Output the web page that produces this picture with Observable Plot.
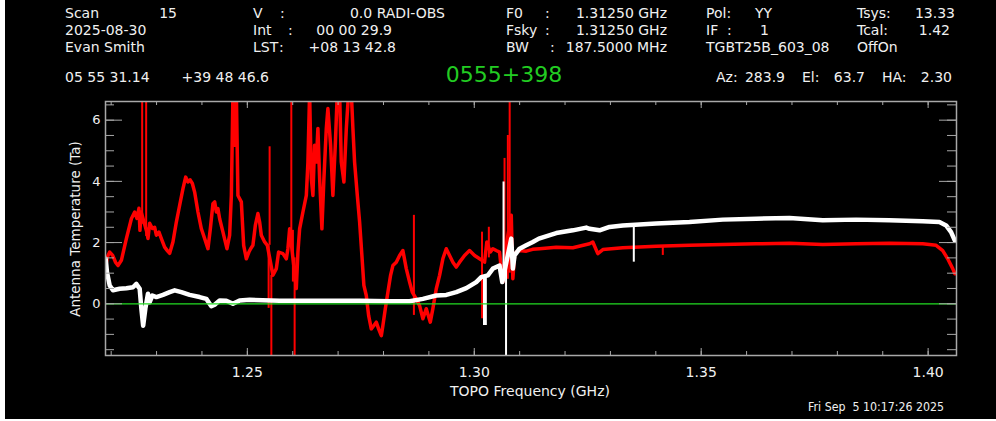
<!DOCTYPE html>
<html>
<head>
<meta charset="utf-8">
<script src="https://cdn.jsdelivr.net/npm/d3@7"></script>
<script src="https://cdn.jsdelivr.net/npm/@observablehq/plot@0.6"></script>
<style>
  html, body { margin: 0; padding: 0; background: #fff; overflow: hidden; }
  #bg { position: absolute; left: 5px; top: 0; width: 991px; height: 419px; background: #000; }
  #chart { position: absolute; left: 0; top: 0; }
  #overlay { position: absolute; left: 0; top: 0; }
</style>
</head>
<body>
<div id="bg"></div>
<div id="chart"></div>
<svg id="overlay" width="996" height="421"></svg>
<script>
// ---- data: red spectrum (frequency in GHz, Ta in K)
const redFreq = [1.21879,1.21923,1.21967,1.22033,1.22099,1.22150,1.22225,1.22335,1.22445,1.22518,1.22568,1.22612,1.22634,1.22661,1.22793,1.22811,1.22848,1.22908,1.22958,1.22996,1.23053,1.23106,1.23178,1.23245,1.23289,1.23361,1.23436,1.23509,1.23582,1.23641,1.23692,1.23740,1.23789,1.23839,1.23912,1.23987,1.24060,1.24132,1.24185,1.24242,1.24280,1.24317,1.24352,1.24390,1.24463,1.24551,1.24610,1.24648,1.24683,1.24720,1.24758,1.24793,1.24868,1.24919,1.24978,1.25035,1.25073,1.25123,1.25176,1.25233,1.25271,1.25308,1.25381,1.25441,1.25564,1.25639,1.25689,1.25784,1.25859,1.25894,1.25932,1.26079,1.26115,1.26152,1.26225,1.26300,1.26335,1.26372,1.26410,1.26445,1.26482,1.26520,1.26555,1.26593,1.26643,1.26687,1.26740,1.26775,1.26835,1.26885,1.26938,1.26982,1.27033,1.27070,1.27128,1.27181,1.27231,1.27291,1.27326,1.27363,1.27423,1.27474,1.27524,1.27568,1.27621,1.27672,1.27731,1.27789,1.27841,1.27892,1.27952,1.27987,1.28040,1.28097,1.28156,1.28207,1.28282,1.28355,1.28427,1.28502,1.28575,1.28634,1.28722,1.28795,1.28868,1.28943,1.29031,1.29088,1.29163,1.29236,1.29308,1.29383,1.29456,1.29529,1.29603,1.29676,1.29786,1.29896,1.30007,1.30117,1.30227,1.30277,1.30352,1.30410,1.30484,1.30557,1.30595,1.30630,1.30705,1.30815,1.30850,1.30888,1.30925,1.30998,1.31145,1.31284,1.31438,1.31806,1.32172,1.32540,1.32612,1.32722,1.32833,1.33273,1.34009,1.34742,1.35476,1.36211,1.36945,1.37678,1.38414,1.39147,1.39881,1.40176,1.40321,1.40431,1.40542,1.40590];
const redTa = [1.25,1.55,1.69,1.58,1.35,1.25,1.42,2.13,2.78,3.00,2.79,3.12,2.40,3.00,2.30,2.13,2.63,2.46,2.50,2.24,2.34,2.13,1.85,1.72,1.65,2.02,2.67,3.22,3.76,4.14,3.98,4.05,3.93,3.65,3.00,2.45,2.13,1.80,2.45,3.27,3.33,3.00,3.11,2.78,2.34,1.80,2.24,3.54,6.90,5.18,6.90,3.54,3.33,1.91,1.47,1.69,1.80,1.91,2.56,2.95,2.67,2.24,2.02,1.91,0.93,1.15,1.69,1.64,1.47,1.80,2.45,0.50,1.69,2.45,3.00,3.54,4.63,6.90,4.09,3.54,5.18,4.63,5.73,4.09,2.45,4.09,5.73,6.38,5.18,3.54,5.18,6.90,6.90,4.63,3.98,5.73,6.90,6.90,5.73,4.63,3.54,2.67,1.58,0.60,0.27,-0.38,-0.82,-0.71,-0.60,-0.82,-1.04,-0.71,-0.16,0.38,0.93,1.25,1.36,1.58,1.74,1.15,0.71,0.38,0.16,-0.06,-0.49,-0.16,-0.60,-0.16,0.49,0.93,1.47,1.80,1.58,1.36,1.20,1.36,1.58,1.74,1.58,1.47,1.36,2.02,1.69,1.80,1.74,1.69,1.15,0.71,1.91,2.89,0.82,1.58,1.69,1.74,1.72,1.78,1.80,1.85,1.83,1.96,2.02,1.64,1.77,1.83,1.88,1.91,1.94,1.96,1.98,1.94,1.96,1.98,1.96,1.91,1.74,1.47,1.15,0.98];
// narrow red spikes: frequency, lower and upper Ta
const redSpikeFreq = [1.22683,1.22771,1.25469,1.25491,1.25529,1.25969,1.26004,1.26042,1.28670,1.30171,1.30321,1.30667,1.30740,1.30780,1.34154];
const redSpikeLo   = [2.60,2.20,-0.15,1.91,-2.00,2.00,0.71,-2.00,-0.38,-0.49,1.50,1.00,0.80,1.00,1.58];
const redSpikeHi   = [6.90,6.90,1.91,5.13,0.93,6.90,2.40,1.50,2.89,2.34,2.50,4.75,5.50,6.90,1.88];

// ---- data: white spectrum
const whiteFreq = [1.21879,1.21908,1.21967,1.22040,1.22187,1.22335,1.22480,1.22555,1.22628,1.22665,1.22705,1.22753,1.22811,1.22848,1.22908,1.22996,1.23141,1.23289,1.23399,1.23546,1.23729,1.23949,1.24097,1.24207,1.24280,1.24390,1.24537,1.24683,1.24830,1.25051,1.25711,1.26593,1.27474,1.28134,1.28575,1.28868,1.29163,1.29383,1.29603,1.29824,1.30044,1.30154,1.30300,1.30410,1.30557,1.30617,1.30815,1.30850,1.30888,1.30998,1.31145,1.31291,1.31423,1.31806,1.32172,1.32467,1.32540,1.32760,1.32980,1.33273,1.34009,1.34742,1.35476,1.36211,1.36945,1.37678,1.38414,1.39147,1.39881,1.40249,1.40396,1.40506,1.40586];
const whiteTa = [1.47,1.03,0.60,0.44,0.49,0.51,0.54,0.65,0.49,-0.16,-0.72,-0.16,0.33,0.05,0.27,0.22,0.29,0.38,0.44,0.38,0.29,0.22,0.16,-0.08,-0.03,0.11,0.10,0.00,0.11,0.13,0.10,0.10,0.10,0.08,0.08,0.16,0.27,0.29,0.38,0.51,0.71,0.87,0.93,1.15,1.25,0.71,2.13,1.15,1.58,1.80,1.91,2.02,2.13,2.31,2.40,2.49,2.45,2.40,2.51,2.56,2.62,2.67,2.75,2.78,2.80,2.73,2.75,2.73,2.70,2.67,2.56,2.34,2.07];
// narrow white spikes
const whiteSpikeFreq = [1.30215,1.30255,1.30645,1.30700,1.33515];
const whiteSpikeLo   = [-0.71,-0.71,0.71,-2.00,1.36];
const whiteSpikeHi   = [0.87,0.90,3.98,1.20,2.56];

// ---- axis ticks
const xTickLabels = [1.25, 1.30, 1.35, 1.40];
const xMinorTicks = [1.22,1.23,1.24,1.25,1.26,1.27,1.28,1.29,1.30,1.31,1.32,1.33,1.34,1.35,1.36,1.37,1.38,1.39,1.40];
const yTickLabels = [0, 2, 4, 6];
const yMinorTicks = [-1.5,-1,-0.5,0,0.5,1,1.5,2,2.5,3,3.5,4,4.5,5,5.5,6,6.5];
const xDomain = [1.21875, 1.40625];
const yDomain = [-1.69, 6.61];

const red = redFreq.map((f, i) => ({f, ta: redTa[i]}));
const white = whiteFreq.map((f, i) => ({f, ta: whiteTa[i]}));
const redSpikes = redSpikeFreq.map((f, i) => ({f, lo: redSpikeLo[i], hi: redSpikeHi[i]}));
const whiteSpikes = whiteSpikeFreq.map((f, i) => ({f, lo: whiteSpikeLo[i], hi: whiteSpikeHi[i]}));

const W = 996, H = 421, mL = 105, mR = 40, mT = 101, mB = 66;
const fw = W - mL - mR, fh = H - mT - mB;
const gray = "#a8a8a8";

const chart = Plot.plot({
  width: W, height: H,
  marginLeft: mL, marginRight: mR, marginTop: mT, marginBottom: mB,
  style: {background: "transparent", color: "#f0f0f0", fontFamily: "DejaVu Sans", fontSize: "14px"},
  x: {domain: xDomain},
  y: {domain: yDomain},
  marks: [
    Plot.line(red, {x: "f", y: "ta", stroke: "#ff0000", strokeWidth: 3.5, clip: true}),
    Plot.ruleX(redSpikes, {x: "f", y1: "lo", y2: "hi", stroke: "#ff0000", strokeWidth: 2, clip: true}),
    Plot.line(white, {x: "f", y: "ta", stroke: "#ffffff", strokeWidth: 4.5, clip: true}),
    Plot.ruleX(whiteSpikes, {x: "f", y1: "lo", y2: "hi", stroke: "#ffffff", strokeWidth: 2, clip: true}),
    Plot.ruleY([0], {stroke: "#22dd22", strokeWidth: 1.2}),
    Plot.frame({stroke: gray, strokeWidth: 1.5}),
    Plot.tickX(xMinorTicks, {x: d => d, stroke: gray, insetTop: fh - 4}),
    Plot.tickX(xTickLabels, {x: d => d, stroke: gray, insetTop: fh - 7}),
    Plot.tickX(xMinorTicks, {x: d => d, stroke: gray, insetBottom: fh - 4}),
    Plot.tickX(xTickLabels, {x: d => d, stroke: gray, insetBottom: fh - 7}),
    Plot.tickY(yMinorTicks, {y: d => d, stroke: gray, insetRight: fw - 9}),
    Plot.tickY(yTickLabels, {y: d => d, stroke: gray, insetRight: fw - 17}),
    Plot.tickY(yMinorTicks, {y: d => d, stroke: gray, insetLeft: fw - 9}),
    Plot.tickY(yTickLabels, {y: d => d, stroke: gray, insetLeft: fw - 17}),
    Plot.axisX(xTickLabels, {anchor: "bottom", tickSize: 0, tickPadding: 12, tickFormat: d => d.toFixed(2), label: null, fontSize: 14}),
    Plot.axisY(yTickLabels, {anchor: "left", tickSize: 0, tickPadding: 5, label: null, fontSize: 13})
  ]
});
document.getElementById("chart").appendChild(chart);

// ---- header / annotation texts
const txt = "#f0f0f0";
const header = [
  ["Scan", 65, 18, "start"], ["15", 177, 18, "end"],
  ["V", 253, 18, "start"], [":", 280, 18, "start"], ["0.0 RADI-OBS", 445, 18, "end"],
  ["F0", 506, 18, "start"], [":", 545, 18, "start"], ["1.31250 GHz", 667, 18, "end"],
  ["Pol:", 706, 18, "start"], ["YY", 755, 18, "start"],
  ["Tsys:", 857, 18, "start"], ["13.33", 955, 18, "end"],
  ["2025-08-30", 65, 35, "start"],
  ["Int", 253, 35, "start"], [":", 288, 35, "start"], ["00 00 29.9", 392, 35, "end"],
  ["Fsky", 506, 35, "start"], [":", 545, 35, "start"], ["1.31250 GHz", 667, 35, "end"],
  ["IF", 706, 35, "start"], [":", 727, 35, "start"], ["1", 760, 35, "start"],
  ["Tcal:", 857, 35, "start"], ["1.42", 950, 35, "end"],
  ["Evan Smith", 65, 52, "start"],
  ["LST", 253, 52, "start"], [":", 279, 52, "start"], ["+08 13 42.8", 396, 52, "end"],
  ["BW", 506, 52, "start"], [":", 550, 52, "start"], ["187.5000 MHz", 667, 52, "end"],
  ["TGBT25B_603_08", 706, 52, "start"], ["OffOn", 857, 52, "start"],
  ["05 55 31.14", 65, 82, "start"], ["+39 48 46.6", 269, 82, "end"],
  ["Az:", 716, 82, "start"], ["283.9", 785, 82, "end"],
  ["El:", 802, 82, "start"], ["63.7", 865, 82, "end"],
  ["HA:", 882, 82, "start"], ["2.30", 952, 82, "end"]
];
const ov = d3.select("#overlay");
ov.selectAll("text.h").data(header).join("text")
  .attr("class", "h")
  .attr("x", d => d[1]).attr("y", d => d[2])
  .attr("text-anchor", d => d[3])
  .attr("fill", txt)
  .style("font-family", "DejaVu Sans").style("font-size", "14px")
  .text(d => d[0]);

ov.append("text").attr("x", 504).attr("y", 82).attr("text-anchor", "middle")
  .attr("fill", "#22cc22").style("font-family", "DejaVu Sans").style("font-size", "22px")
  .text("0555+398");

ov.append("text").attr("x", 530).attr("y", 396).attr("text-anchor", "middle")
  .attr("fill", txt).style("font-family", "DejaVu Sans").style("font-size", "14px")
  .text("TOPO Frequency (GHz)");

ov.append("text").attr("transform", "translate(80,229) rotate(-90)").attr("text-anchor", "middle")
  .attr("fill", txt).style("font-family", "DejaVu Sans").style("font-size", "13.5px")
  .text("Antenna Temperature (Ta)");

ov.append("text").attr("x", 808).attr("y", 411)
  .attr("textLength", 136).attr("lengthAdjust", "spacingAndGlyphs")
  .attr("fill", txt).style("font-family", "DejaVu Sans").style("font-size", "12px")
  .style("white-space", "pre")
  .text("Fri Sep  5 10:17:26 2025");
</script>
</body>
</html>
